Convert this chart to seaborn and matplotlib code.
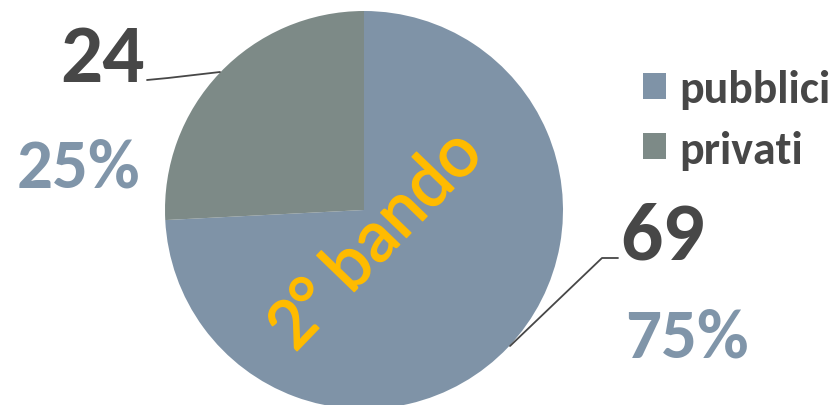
import matplotlib
matplotlib.use("Agg")
import matplotlib.pyplot as plt
import matplotlib.patheffects as pe
import seaborn as sns
from matplotlib import font_manager

categories = ["pubblici", "privati"]
values = [69, 24]
pct_labels = ["75%", "25%"]
center_title = "2° bando"

colors = ["#7F93A7", "#7D8A87"]
dark = "#474747"
pct_color = "#8095A9"
yellow = "#FFBB00"

sns.set_theme(style="white")
avail = {f.name for f in font_manager.fontManager.ttflist}
fam = "DejaVu Sans"
for cand in ["Carlito", "Lato", "Open Sans"]:
    if cand in avail:
        fam = cand
        break
plt.rcParams["font.family"] = [fam, "DejaVu Sans"]

W, H = 832, 406
fig = plt.figure(figsize=(W / 100, H / 100), dpi=100)
cx, cy, r = 364, 211, 199
ax = fig.add_axes([(cx - r) / W, (H - (cy + r)) / H, 2 * r / W, 2 * r / H])
wedges, _ = ax.pie(values, colors=colors, startangle=90, counterclock=False,
                   wedgeprops=dict(linewidth=0))
ax.set_xlim(-1, 1)
ax.set_ylim(-1, 1)
ax.set_aspect("equal")
ax.axis("off")

def d(px, py):
    return (px - cx) / r, (cy - py) / r

# value labels and percentages
num_pos = {"privati": d(102, 82), "pubblici": d(663, 260)}
pct_pos = {"privati": d(78, 188), "pubblici": d(687, 358)}
for cat, v, p in zip(categories, values, pct_labels):
    x, y = num_pos[cat]
    ax.text(x, y, str(v), ha="center", va="baseline", fontsize=60,
            fontweight="bold", color=dark, clip_on=False)
    x, y = pct_pos[cat]
    ax.text(x, y, p, ha="center", va="baseline", fontsize=51,
            fontweight="bold", color=pct_color, clip_on=False)

# leader lines
l1 = [d(147, 81), d(168, 79), d(220, 73)]
l2 = [d(510, 347), d(602, 259), d(618, 259)]
for pts in (l1, l2):
    xs, ys = zip(*pts)
    ax.plot(xs, ys, color=dark, lw=1.3, clip_on=False)

# centre title
tx, ty = d(376, 242)
ax.text(tx, ty, center_title, ha="center", va="center", rotation=46,
        rotation_mode="anchor", fontsize=54, fontweight="normal",
        color=yellow,
        path_effects=[pe.withStroke(linewidth=1.0, foreground=yellow)])

leg = fig.legend(wedges, categories, loc="upper left",
                 bbox_to_anchor=(643 / W, 1 - 70 / H), frameon=False,
                 fontsize=33, handlelength=0.5, handleheight=0.5,
                 handletextpad=0.3, labelspacing=0.45, borderpad=0,
                 borderaxespad=0)
for t in leg.get_texts():
    t.set_color(dark)
    t.set_fontweight("bold")

fig.savefig("out.png", dpi=100)
